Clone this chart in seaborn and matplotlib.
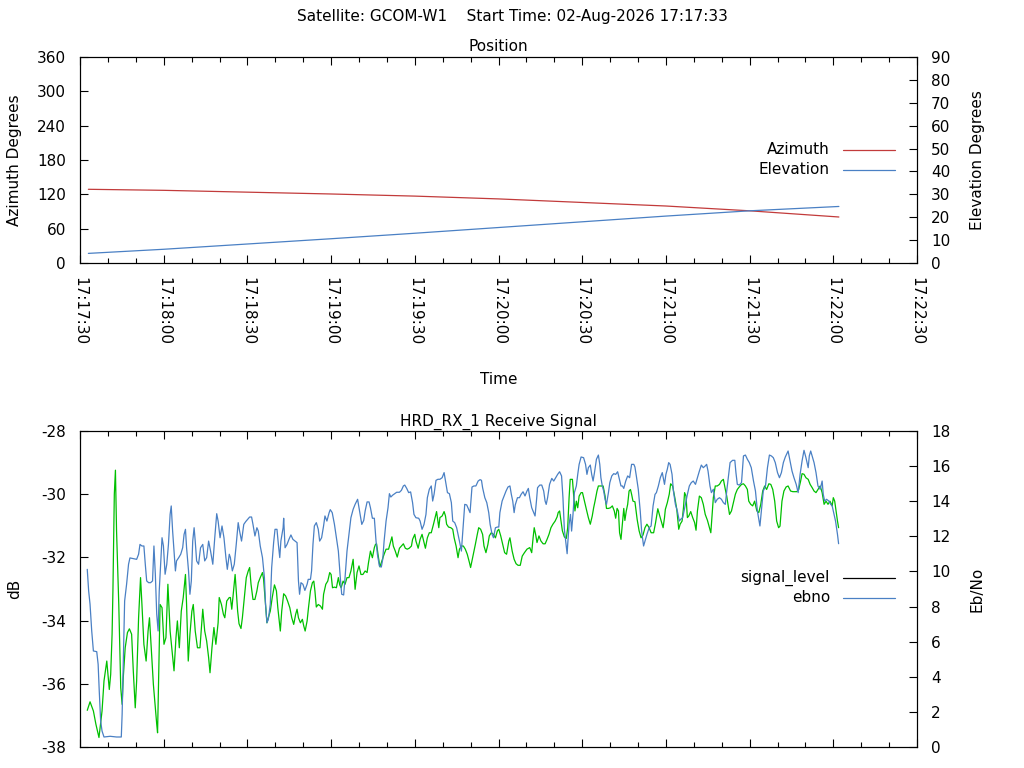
import numpy as np
import pandas as pd
import matplotlib
matplotlib.use("Agg")
import matplotlib.pyplot as plt
import matplotlib.dates as mdates
from matplotlib.lines import Line2D
import seaborn as sns

# ---------------- data (time offsets in seconds after 17:17:30) ----------------
pos_t = [3, 30, 60, 90, 120, 150, 180, 210, 240, 272]
azimuth_deg = [128.8, 127.0, 123.8, 120.6, 116.9, 112.0, 105.8, 99.6, 91.2, 80.4]
elevation_deg = [4.2, 6.0, 8.3, 10.6, 13.0, 15.5, 18.0, 20.5, 22.8, 24.7]

signal_t = [
    2.6, 3.6, 4.8, 5.7, 6.8, 7.4, 7.9, 8.6, 9.6, 10.5, 11.0, 11.5, 11.8, 12.3, 12.7,
    13.1, 13.9, 14.6, 15.1, 15.5, 16.2, 17.0, 17.7, 18.5, 19.1, 19.8, 20.3, 21.0, 21.7, 22.2,
    22.9, 23.7, 24.4, 24.9, 25.6, 26.3, 27.0, 27.5, 27.8, 28.2, 28.7, 29.4, 30.1, 30.8, 31.5,
    32.3, 33.0, 33.7, 34.4, 34.9, 35.6, 36.3, 37.0, 37.8, 38.2, 38.8, 39.4, 40.1, 40.6, 41.3,
    42.1, 43.0, 44.0, 44.7, 45.4, 46.1, 46.6, 47.3, 48.0, 48.7, 49.5, 49.9, 50.7, 51.4, 51.9,
    52.6, 53.5,
    53.9, 54.4, 54.8, 55.6, 56.0, 56.5, 57.0, 57.7, 58.2, 58.9, 59.6, 60.3, 60.8, 61.3, 62.0,
    62.7, 63.4, 63.9, 64.6, 65.4, 65.8, 66.3, 67.0, 67.5, 68.2, 68.9, 69.7, 70.4, 70.9, 71.3,
    71.8, 72.3, 73.0, 73.7, 74.4, 75.2, 75.9, 76.6, 77.3, 77.8, 78.3, 79.0, 79.7, 80.2, 80.7,
    81.4, 81.9, 82.6, 83.3, 83.8, 84.2, 84.7, 85.4, 86.2, 86.9, 87.3, 88.1, 88.8, 89.5, 90.0,
    90.5, 91.2, 91.9, 92.6, 93.1, 93.6, 94.3, 95.0, 95.7, 96.4, 97.1, 97.9, 98.6, 99.3, 100.0,
    100.7, 101.4, 102.2, 102.9, 103.4, 104.1, 104.8, 105.5,
    105.9, 106.3, 106.8, 107.5, 108.2, 109.0, 109.7, 110.6, 111.4, 111.8, 112.3, 113.0, 113.7,
    114.5, 115.2, 115.9, 116.6, 117.3, 118.0, 118.8, 119.2, 120.0, 120.4, 121.2, 121.9, 122.6,
    123.3, 123.8, 124.5, 125.2, 125.9, 126.7, 127.4, 127.8, 128.6, 129.0, 129.8, 130.5, 131.0,
    131.4, 132.1, 132.9, 133.6, 134.1, 134.8, 135.5, 136.0, 136.7, 137.4, 138.1, 138.8, 139.6,
    140.0, 140.5, 141.0, 141.7, 142.4, 142.9, 143.6, 144.3, 144.8, 145.5, 146.2, 146.7, 147.4,
    148.2, 148.9, 149.6, 150.1, 150.8, 151.5, 152.2, 152.9, 153.7, 154.1, 154.9, 155.6, 156.3,
    157.0, 157.5,
    157.8, 158.5, 159.3, 160.2, 161.2, 161.9, 162.4, 162.8, 163.3, 163.8, 164.5, 165.2, 166.0,
    166.7, 167.4, 168.1, 168.8, 169.5, 170.3, 171.0, 171.4, 171.9, 172.4, 172.9, 173.6, 174.3,
    174.8, 175.3, 175.7, 176.5, 176.9, 177.4, 177.9, 178.4, 178.9, 179.6, 180.1, 180.8, 181.5,
    182.2, 182.9, 183.6, 184.1, 184.6, 185.3, 185.8, 186.7, 187.5, 188.2, 188.7, 189.4, 190.1,
    190.8, 191.5, 192.0, 192.5, 193.0, 193.4, 193.9, 194.4, 194.9, 195.3, 195.8, 196.3, 196.8,
    197.3, 197.7, 198.2, 198.9, 199.7, 200.4, 201.1, 201.8, 202.5, 203.2, 204.0, 204.7, 205.6,
    206.3, 207.1, 207.8, 208.5, 209.0, 209.5,
    209.8, 210.5, 211.2, 211.7, 212.4, 213.2, 213.9, 214.6, 215.1, 215.8, 216.3, 216.7, 217.2,
    217.7, 218.2, 218.9, 219.6, 220.3, 220.8, 221.3, 222.0, 222.7, 223.4, 224.1, 224.9, 225.6,
    226.1, 226.5, 227.0, 227.7, 228.4, 229.2, 229.9, 230.6, 231.3, 231.8, 232.3, 232.8, 233.5,
    234.2, 234.9, 235.6, 236.3, 237.1, 237.8, 238.5, 239.2, 239.7, 240.4, 241.1, 241.8, 242.6,
    243.3, 244.0, 244.7, 245.4, 246.1, 246.9, 247.6, 248.3, 249.0, 249.7, 250.4, 250.9, 251.6,
    252.3, 253.1, 253.8, 254.7, 255.5, 256.2, 256.9, 257.6, 258.3, 258.8, 259.5, 260.2, 261.0,
    261.7, 262.4, 263.1, 263.8, 264.5, 265.3, 266.0, 266.7, 267.4, 268.1, 268.8, 269.6, 270.0,
    270.5, 271.0, 271.5, 271.9,
]
signal_db = [
    -36.84, -36.57, -36.86, -37.28, -37.70, -37.23, -36.86, -35.91, -35.28, -36.18, -35.70, -34.43,
    -33.06, -30.00, -29.24, -31.16, -33.49, -36.12, -36.65, -35.81, -34.86, -34.38, -34.26, -34.43,
    -35.59, -36.76, -35.91, -33.91, -32.64, -33.49, -34.75, -35.28, -34.33, -33.91, -34.96, -36.02,
    -36.76, -37.28, -37.55, -35.81, -33.49, -33.59, -34.75, -34.54, -32.85, -34.33, -34.96, -35.59,
    -34.54, -34.01, -34.86, -33.70, -33.27, -32.54, -33.49, -35.28, -34.43, -33.70, -33.49, -34.33,
    -34.86, -34.86, -33.64, -34.33, -34.65, -35.17, -35.65, -34.86, -34.22, -34.75, -34.07, -33.27,
    -33.49, -33.80, -33.91, -33.38, -33.27,
    -33.27, -33.64, -33.27, -32.54, -33.06, -33.70, -34.10, -34.25, -33.91, -33.27, -32.64, -32.43,
    -32.32, -32.85, -33.33, -33.33, -33.06, -32.80, -32.64, -32.48, -32.69, -33.27, -34.07, -33.91,
    -33.70, -33.27, -32.87, -33.06, -33.59, -33.91, -34.33, -33.70, -33.15, -33.22, -33.38, -33.59,
    -33.91, -34.12, -33.80, -33.64, -33.91, -34.07, -33.96, -34.17, -34.33, -34.01, -33.59, -33.06,
    -32.80, -32.75, -33.06, -33.57, -33.49, -33.54, -33.64, -33.17, -32.85, -32.75, -32.48, -32.54,
    -32.96, -32.94, -32.96, -32.64, -32.87, -32.96, -32.75, -32.85, -32.64, -32.64, -32.43, -32.06,
    -33.01, -32.48, -32.27, -32.54, -32.54, -32.43, -32.48, -32.17, -31.80, -32.01, -31.69,
    -31.59, -31.57, -31.90, -32.30, -32.11, -31.90, -31.74, -31.74, -31.48, -31.35, -31.64, -31.80,
    -31.99, -31.71, -31.64, -31.57, -31.71, -31.74, -31.71, -31.64, -31.43, -31.27, -31.48, -31.71,
    -31.43, -31.27, -31.53, -31.71, -31.38, -31.22, -31.22, -30.95, -30.69, -30.55, -31.06, -30.74,
    -30.69, -30.55, -30.69, -30.95, -31.04, -31.06, -31.11, -31.38, -31.64, -32.01, -31.74, -31.64,
    -31.64, -31.74, -31.90, -32.17, -32.32, -32.11, -31.90, -31.59, -31.27, -31.06, -31.11, -31.27,
    -31.64, -31.85, -31.59, -31.32, -31.22, -31.27, -31.38, -31.16, -31.11, -31.32, -31.59, -31.85,
    -31.90, -31.48, -31.38, -31.80, -32.06, -32.20, -32.25, -32.25,
    -32.25, -31.96, -31.85, -31.74, -31.69, -31.85, -31.38, -31.06, -31.27, -31.53, -31.32, -31.48,
    -31.57, -31.57, -31.43, -31.27, -31.06, -30.95, -30.85, -30.72, -30.58, -30.53, -30.85, -31.16,
    -31.35, -31.40, -31.06, -30.11, -29.53, -29.53, -30.00, -30.53, -30.22, -30.43, -30.06, -29.95,
    -29.95, -30.22, -30.48, -30.74, -30.95, -30.69, -30.43, -30.22, -29.90, -29.74, -29.74, -29.74,
    -30.06, -30.45, -30.45, -30.43, -30.37, -30.53, -30.76, -30.45, -30.53, -31.22, -31.43, -30.95,
    -30.45, -30.83, -30.53, -30.32, -29.90, -29.85, -30.00, -30.22, -30.24, -30.80, -31.16, -31.38,
    -31.29, -31.06, -30.95, -31.06, -31.22, -31.22, -30.90, -30.46, -30.69, -30.90, -31.06, -30.74,
    -30.48, -30.27, -30.00, -29.67, -29.74, -30.11, -30.48, -31.11, -30.95, -30.85, -30.43, -29.95,
    -30.06, -30.74, -30.69, -30.55, -30.74, -30.90, -31.14, -30.53, -30.06, -30.11, -30.32, -30.64,
    -30.83, -31.06, -31.22, -30.74, -30.11, -29.74, -29.74, -29.69, -29.58, -29.53, -29.85, -30.06,
    -30.34, -30.64, -30.53, -30.27, -30.00, -29.85, -29.77, -29.69, -29.67, -29.74, -29.85, -30.22,
    -30.32, -30.37, -30.22, -30.53, -30.58, -30.32, -29.90, -29.74, -29.85, -29.67, -29.69, -29.85,
    -30.22, -30.85, -31.06, -31.01, -30.22, -29.90, -29.77, -29.74, -29.90, -29.92, -29.92, -29.92,
    -29.85, -29.58, -29.35, -29.37, -29.48, -29.53, -29.69, -29.79, -29.90, -29.95, -29.85, -29.74,
    -29.95, -30.32, -30.22, -30.32, -30.22, -30.37, -30.11, -30.22, -30.53, -30.85, -31.06,
]

ebno_t = [
    2.6, 3.1, 3.6, 4.2, 4.8, 6.0, 6.5, 6.9, 7.4, 7.9, 8.6, 10.8, 13.1, 14.8, 15.1,
    15.5, 16.0, 16.7, 17.4, 17.9, 20.3, 21.0, 21.5, 22.2, 22.9, 23.4, 23.9, 24.6, 25.3, 26.0,
    26.5, 27.0, 27.5, 28.0, 28.4, 28.9, 29.4, 29.9, 30.5, 31.1, 31.7, 32.3, 32.7, 33.2, 33.7,
    34.2, 34.6, 35.4, 36.1, 36.8, 37.3, 37.8, 38.2, 38.9, 39.4, 39.9, 40.4, 40.9, 41.3, 41.8,
    42.5, 43.2, 44.0, 44.7, 45.4, 46.1, 46.8, 47.6, 48.3, 49.0, 49.5, 50.2, 50.9, 51.6, 52.3,
    52.8, 53.5,
    53.9, 54.6, 55.3, 56.0, 56.7, 57.2, 57.9, 58.7, 59.4, 60.1, 60.8, 61.5, 62.0, 62.7, 63.4,
    63.9, 64.6, 65.4, 66.1, 66.5, 67.0, 67.5, 68.2, 68.7, 69.4, 69.9, 70.6, 71.1, 71.6, 72.0,
    72.8, 73.0, 73.5, 74.2, 74.9, 75.6, 76.3, 77.1, 77.8, 78.3, 78.7, 79.2, 79.9, 80.6, 81.4,
    81.8, 82.6, 83.0, 83.5, 84.0, 84.7, 85.4, 85.9, 86.6, 87.3, 87.8, 88.5, 89.3, 89.7, 90.4,
    91.2, 91.9, 92.6, 93.3, 93.8, 94.5, 95.0, 95.7, 96.4, 97.1, 97.9, 98.6, 99.5, 100.2, 101.0,
    101.7, 102.2, 102.9, 103.6, 104.1, 104.8, 105.5,
    106.1, 106.6, 107.3, 108.0, 108.5, 109.0, 109.7, 110.4, 110.9, 111.4, 112.1, 112.8, 113.5,
    114.5, 115.2, 115.9, 116.4, 117.1, 117.8, 118.5, 119.2, 119.7, 120.4, 121.4, 121.9, 122.6,
    123.3, 124.0, 124.5, 125.2, 125.9, 126.4, 126.9, 127.6, 128.3, 129.0, 129.8, 130.5, 131.0,
    131.7, 132.4, 133.1, 133.6, 134.3, 135.0, 135.5, 136.0, 136.7, 137.2, 137.9, 138.6, 139.3,
    139.8, 140.5, 141.2, 141.9, 142.7, 143.4, 143.9, 144.3, 145.1, 145.8, 146.5, 147.0, 147.7,
    148.2, 148.9, 149.6, 150.1, 150.5, 151.3, 152.0, 152.7, 153.4, 154.1, 154.6, 155.1, 155.6,
    156.0, 156.8, 157.5,
    158.1, 158.8, 159.5, 160.2, 160.7, 161.2, 161.9, 162.6, 163.1, 163.6, 164.0, 164.8, 165.5,
    166.2, 166.7, 167.1, 167.6, 168.3, 169.1, 169.8, 170.5, 171.2, 171.9, 172.6, 173.1, 173.6,
    174.1, 174.6, 174.8, 175.3, 175.8, 176.2, 176.7, 177.2, 177.9, 178.4, 178.9, 179.6, 180.5,
    181.2, 181.7, 182.2, 182.9, 183.4, 183.9, 184.4, 185.1, 185.8, 186.3, 186.7, 187.2, 187.7,
    188.2, 188.7, 189.4, 189.9, 190.6, 191.3, 192.0, 192.7, 193.2, 193.9, 194.4, 194.9, 195.6,
    196.3, 197.0, 197.7, 198.5, 198.9, 199.4, 200.1, 200.8, 201.3, 202.0, 202.5, 203.2, 204.0,
    204.7, 205.4, 206.1, 206.6, 207.3, 208.0, 208.7, 209.5,
    210.0, 210.5, 211.0, 211.5, 212.2, 212.7, 213.4, 214.1, 214.8, 215.3, 216.0, 216.5, 217.2,
    217.7, 218.4, 219.1, 219.8, 220.6, 221.3, 222.0, 222.7, 223.4, 224.1, 224.6, 225.1, 225.8,
    226.3, 227.0, 227.7, 228.4, 229.2, 229.9, 230.6, 231.3, 231.8, 232.5, 233.0, 233.9, 234.7,
    235.1, 235.6, 236.3, 237.1, 237.8, 238.5, 239.2, 239.9, 240.6, 241.4, 242.1, 242.8, 243.3,
    243.7, 244.2, 244.9, 245.7, 246.4, 247.1, 247.8, 248.5, 249.2, 250.0, 250.7, 251.4, 252.1,
    252.8, 253.8, 254.5, 255.2, 255.9, 256.7, 257.4, 258.1, 258.8, 259.5, 260.2, 261.0, 261.4,
    261.9, 262.4, 263.1, 263.8, 264.5, 265.3, 266.0, 266.4, 266.9, 267.6, 268.4, 269.1, 269.6,
    270.0, 270.8, 271.5, 271.9,
]
ebno_val = [
    10.12, 8.89, 8.13, 6.61, 5.47, 5.43, 4.71, 3.19, 1.48, 0.91, 0.57, 0.61, 0.57, 0.57, 1.86,
    4.71, 8.32, 9.27, 10.41, 10.77, 10.69, 10.98, 11.54, 11.45, 11.45, 10.41, 9.46, 9.36, 9.36, 9.46,
    11.45, 9.84, 7.56, 6.61, 8.89, 10.41, 11.92, 11.45, 9.84, 10.41, 11.54, 13.25, 13.73, 12.30, 11.16,
    10.03, 10.60, 10.79, 10.98, 11.35, 12.11, 12.40, 11.35, 10.03, 8.70, 9.46, 11.73, 12.49, 11.73, 10.60,
    10.41, 11.35, 11.54, 10.60, 10.79, 11.73, 11.16, 10.41, 11.92, 13.29, 12.87, 11.92, 12.59, 11.92, 10.79,
    10.12, 10.98,
    10.79, 10.03, 10.41, 11.54, 12.78, 12.30, 11.73, 12.68, 12.84, 12.97, 13.10, 13.10, 12.68, 12.02, 12.49,
    12.30, 11.45, 10.79, 9.65, 8.13, 7.08, 7.27, 8.13, 10.22, 11.64, 12.40, 12.40, 11.54, 10.79, 11.73,
    12.49, 13.03, 11.35, 11.54, 11.83, 12.08, 11.83, 11.73, 11.64, 9.46, 8.70, 9.36, 9.27, 8.92, 9.27,
    9.55, 9.55, 10.03, 11.54, 12.59, 12.78, 12.40, 11.73, 11.92, 12.59, 13.16, 12.87, 13.35, 13.52, 13.35,
    12.68, 11.92, 11.16, 9.65, 8.70, 8.66, 9.65, 11.16, 12.11, 13.06, 13.54, 13.82, 14.11, 13.44, 12.68,
    12.91, 13.44, 13.96, 13.96, 13.63, 13.03, 13.03,
    11.73, 10.98, 10.31, 10.25, 10.69, 11.73, 12.87, 13.63, 14.43, 14.24, 14.35, 14.43, 14.51,
    14.51, 14.62, 14.87, 14.92, 14.73, 14.49, 14.53, 13.92, 13.25, 13.06, 13.03, 12.87, 12.40,
    12.68, 13.25, 14.20, 14.68, 14.87, 14.01, 14.39, 15.19, 15.25, 15.25, 15.34, 15.63, 15.15,
    14.49, 14.43, 13.92, 12.87, 12.78, 12.49, 12.11, 11.73, 11.16, 12.30, 13.82, 13.79, 13.54,
    13.35, 14.81, 14.87, 14.87, 15.15, 15.23, 15.19, 14.77, 14.20, 13.92, 13.35, 12.68, 12.11,
    11.92, 12.49, 12.53, 12.53, 13.35, 14.01, 14.30, 14.58, 14.81, 14.87, 14.39, 14.01, 13.35,
    13.79, 14.20, 14.20,
    14.39, 14.54, 14.30, 14.58, 14.73, 14.20, 13.63, 13.35, 13.16, 14.01, 14.77, 14.92, 14.92,
    14.58, 14.01, 13.82, 14.20, 14.96, 15.30, 15.15, 15.34, 15.53, 15.68, 15.44, 14.20, 12.40,
    11.73, 11.01, 11.54, 12.68, 13.25, 12.30, 13.25, 14.49, 14.87, 15.53, 16.10, 16.52, 16.48,
    16.10, 15.53, 15.91, 16.06, 15.53, 15.15, 15.63, 16.39, 16.63, 16.10, 15.34, 14.87, 14.58,
    14.11, 13.82, 14.49, 15.06, 15.44, 15.57, 15.53, 15.68, 15.34, 14.87, 14.87, 14.73, 15.15,
    15.44, 15.34, 16.10, 16.10, 15.95, 15.44, 14.68, 13.44, 12.30, 11.45, 11.73, 12.11, 12.49,
    12.59, 13.73, 14.39, 14.49, 14.87, 15.34, 15.63, 14.96,
    15.53, 15.82, 16.20, 16.10, 15.53, 14.58, 13.82, 13.44, 12.87, 12.97, 13.06, 13.44, 14.01,
    14.39, 14.87, 15.06, 15.15, 14.96, 15.34, 15.72, 16.06, 15.91, 16.01, 16.10, 15.72, 14.87,
    14.49, 14.68, 13.92, 14.11, 14.20, 14.11, 13.92, 13.82, 14.58, 15.53, 16.20, 16.33, 16.33,
    15.63, 14.96, 14.92, 15.06, 16.58, 16.63, 16.39, 16.20, 15.91, 15.15, 14.58, 13.44, 12.97,
    12.59, 13.44, 14.58, 14.87, 15.91, 16.63, 16.58, 16.48, 16.20, 15.63, 15.34, 15.63, 16.20,
    16.52, 16.86, 16.29, 15.72, 15.34, 14.96, 14.49, 15.53, 16.29, 16.90, 16.48, 15.91, 16.58,
    16.86, 16.58, 16.20, 15.63, 14.87, 14.68, 15.15, 14.39, 14.01, 14.11, 14.01, 13.82, 13.73,
    13.44, 12.87, 12.11, 11.58,
]

assert len(signal_t) == len(signal_db), (len(signal_t), len(signal_db))
assert len(ebno_t) == len(ebno_val), (len(ebno_t), len(ebno_val))

az_ticks = [0, 60, 120, 180, 240, 300, 360]
el_ticks = list(range(0, 91, 10))
db_ticks = [-38, -36, -34, -32, -30, -28]
ebno_ticks = list(range(0, 19, 2))

RED = "#c23b3b"
BLUE = "#4a80c4"
GREEN = "#00c000"

# ---------------- styling ----------------
sns.set_style("white")
plt.rcParams["font.family"] = ["DejaVu Sans"]
plt.rcParams.update({
    "font.size": 11,
    "text.color": "black",
    "axes.edgecolor": "black",
    "axes.linewidth": 0.8,
    "axes.labelcolor": "black",
    "xtick.color": "black",
    "ytick.color": "black",
    "axes.spines.top": True,
    "axes.spines.right": True,
    "axes.unicode_minus": False,
})

base = pd.Timestamp("2026-08-02 17:17:30")
t_end = base + pd.Timedelta(seconds=300)


def to_time(offsets):
    return base + pd.to_timedelta(np.asarray(offsets, dtype=float), unit="s")


pos_df = pd.DataFrame({"time": to_time(pos_t), "Azimuth": azimuth_deg, "Elevation": elevation_deg})
sig_df = pd.DataFrame({"time": to_time(signal_t), "signal_level": signal_db})
ebno_df = pd.DataFrame({"time": to_time(ebno_t), "ebno": ebno_val})

W, H = 1024, 768
fig = plt.figure(figsize=(W / 100, H / 100), dpi=100)
fig.patch.set_facecolor("white")

ax1 = fig.add_axes([80 / W, 1 - 263 / H, 837 / W, 206 / H])
ax1b = ax1.twinx()
ax2 = fig.add_axes([80 / W, 1 - 747 / H, 837 / W, 316 / H])
ax2b = ax2.twinx()

LW = 0.9
sns.lineplot(data=pos_df, x="time", y="Azimuth", ax=ax1, color=RED, lw=LW,
             estimator=None, sort=False, legend=False)
sns.lineplot(data=pos_df, x="time", y="Elevation", ax=ax1b, color=BLUE, lw=LW,
             estimator=None, sort=False, legend=False)
sns.lineplot(data=sig_df, x="time", y="signal_level", ax=ax2, color=GREEN, lw=LW,
             estimator=None, sort=False, legend=False)
sns.lineplot(data=ebno_df, x="time", y="ebno", ax=ax2b, color=BLUE, lw=LW,
             estimator=None, sort=False, legend=False)

for ax in (ax1, ax2):
    ax.set_xlim(base, t_end)
    ax.xaxis.set_major_locator(mdates.SecondLocator(bysecond=[0, 30]))
    ax.xaxis.set_minor_locator(mdates.SecondLocator(bysecond=[0, 10, 20, 30, 40, 50]))
    ax.xaxis.set_major_formatter(mdates.DateFormatter("%H:%M:%S"))
    ax.tick_params(axis="x", which="major", direction="in", length=6, width=0.8,
                   top=True, bottom=True, pad=10)
    ax.tick_params(axis="x", which="minor", direction="in", length=3.5, width=0.8,
                   top=True, bottom=True)
    ax.tick_params(axis="y", which="major", direction="in", length=6, width=0.8,
                   left=True, right=False, pad=10, labelsize=11)
    for s in ax.spines.values():
        s.set_color("black")
        s.set_linewidth(0.8)

for axb in (ax1b, ax2b):
    axb.tick_params(axis="y", which="major", direction="in", length=6, width=0.8,
                    left=False, right=True, pad=10, labelsize=11)

ax1.tick_params(axis="x", labelrotation=-90, labelsize=11)
ax2.tick_params(axis="x", labelbottom=False)

ax1.set_ylim(0, 360)
ax1.set_yticks(az_ticks)
ax1b.set_ylim(0, 90)
ax1b.set_yticks(el_ticks)
ax2.set_ylim(-38, -28)
ax2.set_yticks(db_ticks)
ax2b.set_ylim(0, 18)
ax2b.set_yticks(ebno_ticks)

# labels
ax1.set_xlabel("Time", fontsize=11)
ax1.xaxis.set_label_coords(0.5, (263 - 372) / 206)
ax1.set_ylabel("Azimuth Degrees", fontsize=11)
ax1.yaxis.set_label_coords((22 - 80) / 837, 0.5)
ax1b.set_ylabel("Elevation Degrees", fontsize=11)
ax1b.yaxis.set_label_coords((970 - 80) / 837, 0.5)
ax2.set_xlabel("")
ax2.set_ylabel("dB", fontsize=11)
ax2.yaxis.set_label_coords((22 - 80) / 837, 0.5)
ax2b.set_ylabel("Eb/No", fontsize=11)
ax2b.yaxis.set_label_coords((970 - 80) / 837, 0.5)

ax1.set_title("Position", fontsize=11, pad=4)
ax2.set_title("HRD_RX_1 Receive Signal", fontsize=11, pad=4)
fig.suptitle("Satellite: GCOM-W1    Start Time: 02-Aug-2026 17:17:33",
             fontsize=11, y=1 - 17 / H, va="center")


# legends (gnuplot style: right-aligned text, sample line on the right)
def key(ax, entries, y_px, top_px, height_px):
    for (label, color), yp in zip(entries, y_px):
        yf = (top_px + height_px - yp) / height_px
        ax.text((830 - 80) / 837, yf, label, transform=ax.transAxes,
                ha="right", va="center", fontsize=11)
        ax.add_line(Line2D([(843 - 80) / 837, (895 - 80) / 837], [yf, yf],
                           transform=ax.transAxes, color=color, lw=LW))


key(ax1b, [("Azimuth", RED), ("Elevation", BLUE)], [150, 170], 57, 206)
key(ax2b, [("signal_level", "black"), ("ebno", BLUE)], [578, 598], 431, 316)

fig.savefig("out.png", dpi=100, facecolor="white")
